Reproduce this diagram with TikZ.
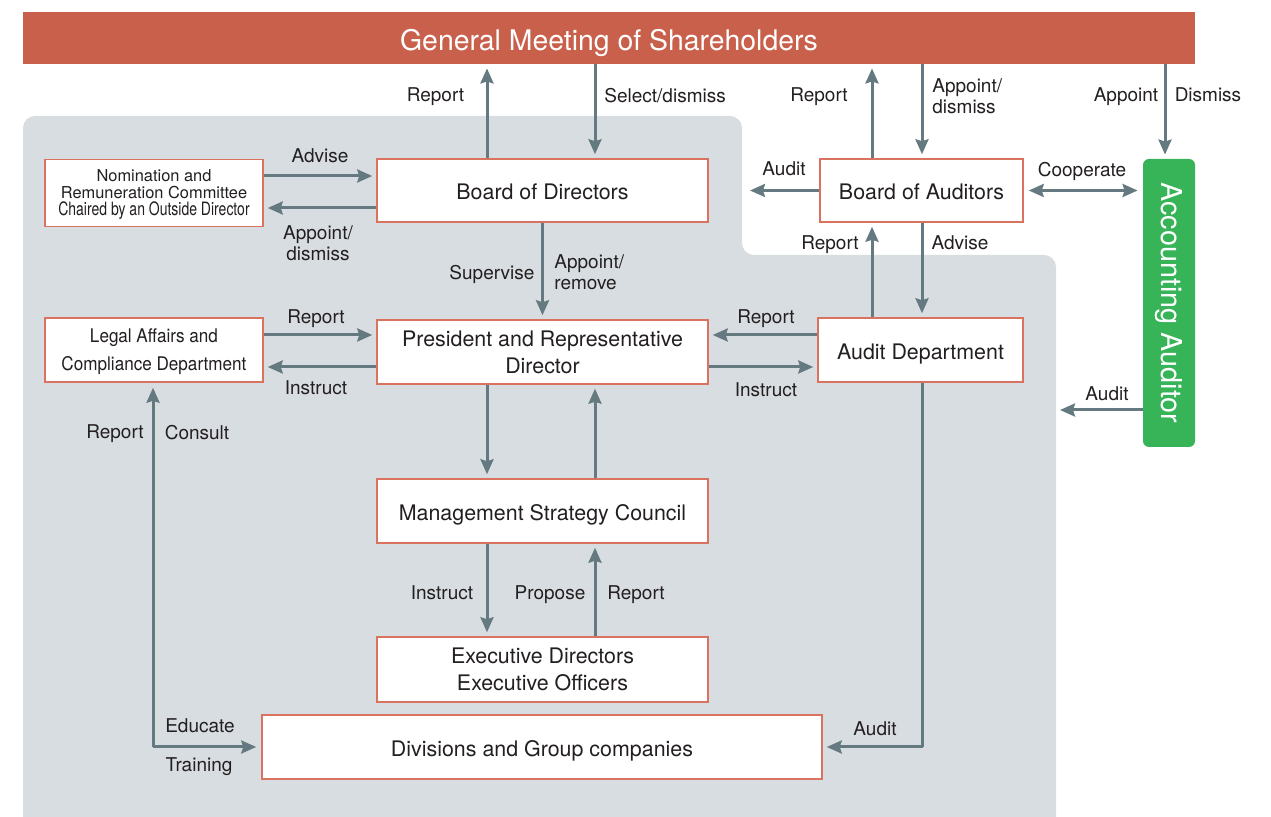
\documentclass[tikz,border=0pt]{standalone}
\usepackage{fontspec}
\setmainfont{TeX Gyre Heros}
\newfontfamily\condfont[FakeStretch=0.91]{TeX Gyre Heros}
\newfontfamily\narrowfont[FakeStretch=0.76]{TeX Gyre Heros}
\usetikzlibrary{arrows.meta,calc}
\definecolor{gmsred}{HTML}{C9604B}
\definecolor{bggray}{HTML}{D8DDE1}
\definecolor{arrgray}{HTML}{647980}
\definecolor{boxline}{HTML}{D9735F}
\definecolor{aagreen}{HTML}{36B457}
\definecolor{txt}{HTML}{231F20}
\begin{document}
\begin{tikzpicture}[x=0.5pt,y=-0.5pt,
  box/.style={draw=boxline,line width=0.75pt,fill=white,inner sep=0pt,align=center,text=txt,
    text depth=0pt,font=\fontsize{10.7}{13.7}\selectfont},
  onebox/.style={box,text height=9.3pt},
  lbl/.style={font=\fontsize{9.5}{10.8}\selectfont,text=txt,inner sep=0pt,align=center,text depth=0pt},
  arr/.style={draw=arrgray,line width=1.5pt,line join=round,-{Stealth[length=7.5pt,width=6.5pt,inset=1pt]},shorten >=2pt},
  arrtwo/.style={draw=arrgray,line width=1.5pt,line join=round,{Stealth[length=7.5pt,width=6.5pt,inset=1pt]}-{Stealth[length=7.5pt,width=6.5pt,inset=1pt]},shorten >=2.5pt,shorten <=2.5pt}]
\useasboundingbox (0,0) rectangle (1271,817);
% background region
\fill[bggray,rounded corners=6pt] (23,840) -- (23,116) -- (742,116) -- (742,255) -- (1056,255) -- (1056,840) -- cycle;
% column / row helpers
\coordinate (x153) at (153,0);
\coordinate (x487) at (487,0);
\coordinate (x595) at (595,0);
\coordinate (x872) at (872,0);
\coordinate (x922) at (922,0);
\coordinate (x1165) at (1165,0);
\coordinate (y176) at (0,176);
\coordinate (y208) at (0,208);
\coordinate (y335) at (0,335);
\coordinate (y367) at (0,367);
\coordinate (y410) at (0,410);
\coordinate (auditL) at (750,190.5);
\coordinate (aaAudit) at (1060,410);
% nodes
\node[fill=gmsred,text=white,inner sep=0pt,minimum width=586pt,minimum height=26pt,text height=12.2pt,text depth=0pt,font=\fontsize{14.2}{16}\selectfont] (gms) at (609,38) {General Meeting of Shareholders};
\node[box,minimum width=109pt,minimum height=33.5pt,font=\fontsize{8.2}{8.5}\selectfont] (nom) at (154,193) {Nomination and\\Remuneration Committee\\{\narrowfont\fontsize{9.2}{9.4}\selectfont Chaired by an Outside Director}};
\node[onebox,minimum width=165.5pt,minimum height=31.5pt] (bod) at (542.5,190.5) {Board of Directors};
\node[onebox,minimum width=101.5pt,minimum height=31.5pt] (boa) at (921.5,190.5) {Board of Auditors};
\node[fill=aagreen,text=white,rounded corners=3pt,inner sep=0pt,minimum width=144pt,minimum height=26pt,rotate=-90,font=\fontsize{14.4}{16}\selectfont] (aa) at (1169,303) {Accounting Auditor};
\node[box,minimum width=109pt,minimum height=32pt,font=\condfont\fontsize{9.4}{14}\selectfont] (legal) at (154,350) {Legal Affairs and\\Compliance Department};
\node[box,minimum width=165.5pt,minimum height=32pt] (pres) at (542.5,352) {President and Representative\\Director};
\node[onebox,minimum width=102.5pt,minimum height=32pt] (ad) at (920.5,350) {Audit Department};
\node[onebox,minimum width=165.5pt,minimum height=32pt] (msc) at (542.5,511) {Management Strategy Council};
\node[box,minimum width=165.5pt,minimum height=32.5pt] (exe) at (542.5,669.5) {Executive Directors\\Executive Officers};
\node[onebox,minimum width=280pt,minimum height=32pt] (div) at (542,747) {Divisions and Group companies};
% connectors
\draw[arr] (bod.north -| x487) -- (gms.south -| x487);
\draw[arr] (gms.south -| x595) -- (bod.north -| x595);
\draw[arr] (boa.north -| x872) -- (gms.south -| x872);
\draw[arr] (gms.south -| x922) -- (boa.north -| x922);
\draw[arr] (gms.south -| x1165) -- (aa.west -| x1165);
\draw[arr,shorten >=0pt] (boa.west) -- (auditL);
\draw[arrtwo] (boa.east) -- (boa.east -| aa.south);
\draw[arr] (nom.east |- y176) -- (bod.west |- y176);
\draw[arr] (bod.west |- y208) -- (nom.east |- y208);
\draw[arr] (bod.south) -- (pres.north);
\draw[arr] (ad.north -| x872) -- (boa.south -| x872);
\draw[arr] (boa.south -| x922) -- (ad.north -| x922);
\draw[arr] (legal.east |- y335) -- (pres.west |- y335);
\draw[arr] (pres.west |- y367) -- (legal.east |- y367);
\draw[arr] (ad.west |- y335) -- (pres.east |- y335);
\draw[arr] (pres.east |- y367) -- (ad.west |- y367);
\draw[arr] (pres.south -| x487) -- (msc.north -| x487);
\draw[arr] (msc.north -| x595) -- (pres.south -| x595);
\draw[arr] (msc.south -| x487) -- (exe.north -| x487);
\draw[arr] (exe.north -| x595) -- (msc.south -| x595);
\draw[arr] (ad.south -| x922) |- (div.east);
\draw[arrtwo] (legal.south -| x153) |- (div.west);
\draw[arr,shorten >=0pt] (aa.south |- y410) -- (aaAudit);
% labels
\node[lbl] (l1) at (435.5,95) {Report};
\node[lbl,anchor=west] (l2) at (604,95) {Select/dismiss};
\node[lbl] (l3) at (819,95) {Report};
\node[lbl,anchor=west,align=left] (l4) at (932,96) {Appoint/\\dismiss};
\node[lbl] (l5) at (1126,95) {Appoint};
\node[lbl] (l6) at (1208,95) {Dismiss};
\node[lbl] (l7) at (320,156) {Advise};
\node[lbl] (l8) at (318,243) {Appoint/\\dismiss};
\node[lbl] (l9) at (784,169) {Audit};
\node[lbl] (l10) at (1082,169) {Cooperate};
\node[lbl] (l11) at (492,272) {Supervise};
\node[lbl,anchor=west,align=left] (l12) at (554,272) {Appoint/\\remove};
\node[lbl] (l13) at (830,243) {Report};
\node[lbl] (l14) at (960,243) {Advise};
\node[lbl] (l15) at (316,317) {Report};
\node[lbl] (l16) at (316,388) {Instruct};
\node[lbl] (l17) at (766,317) {Report};
\node[lbl] (l18) at (766,390) {Instruct};
\node[lbl] (l19) at (115,432) {Report};
\node[lbl] (l20) at (197,432) {Consult};
\node[lbl] (l21) at (1107,394) {Audit};
\node[lbl] (l22) at (442,593) {Instruct};
\node[lbl] (l23) at (550,593) {Propose};
\node[lbl] (l24) at (636,593) {Report};
\node[lbl] (l25) at (200,726) {Educate};
\node[lbl] (l26) at (199,765) {Training};
\node[lbl] (l27) at (875,729) {Audit};
\end{tikzpicture}
\end{document}
